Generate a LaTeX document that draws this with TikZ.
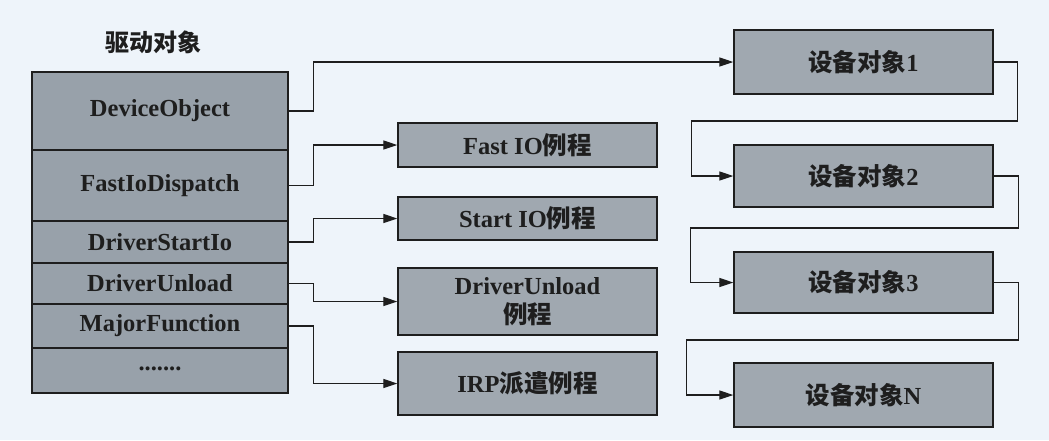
\documentclass[tikz,border=0pt]{standalone}
\usepackage{fontspec}
\setmainfont{Liberation Serif}
\newfontfamily\cjk{Noto Sans CJK SC}
\usetikzlibrary{arrows.meta}
\definecolor{bgc}{HTML}{EEF4FA}
\definecolor{boxc}{HTML}{A0A8B0}
\definecolor{leftc}{HTML}{98A1AA}
\definecolor{inkc}{HTML}{1E1E1E}
\tikzset{
  box/.style={draw=inkc, line width=1.4pt, fill=boxc, minimum width=259pt, inner sep=0pt, align=center, text=inkc, font=\fontsize{24.5}{29}\selectfont\bfseries},
  row/.style={draw=inkc, line width=1.4pt, fill=leftc, minimum width=256pt, inner sep=0pt, text=inkc, font=\fontsize{24.5}{29}\selectfont\bfseries},
  conn/.style={draw=inkc, line width=1.3pt},
  arr/.style={conn, -{Triangle[length=14pt,width=9pt]}}
}
\begin{document}
\begin{tikzpicture}[x=1pt,y=-1pt]
\fill[bgc] (0,0) rectangle (1049,440);
\useasboundingbox (0,0) rectangle (1049,440);
% title
\node[text=inkc, font=\fontsize{24}{26}\selectfont\bfseries\cjk] (title) at (153,42) {驱动对象};
% driver object rows
\node[row, minimum height=78pt] (r1) at (160,111) {DeviceObject};
\node[row, minimum height=71pt] (r2) at (160,185.5) {FastIoDispatch};
\node[row, minimum height=42pt] (r3) at (160,242) {DriverStartIo};
\node[row, minimum height=41pt] (r4) at (160,283.5) {DriverUnload};
\node[row, minimum height=44pt] (r5) at (160,326) {MajorFunction};
\node[row, minimum height=45pt] (r6) at (160,370.5) {\raisebox{0.35ex}{.......}};
% routines
\node[box, minimum height=44pt] (fast) at (527.5,145) {Fast IO{\cjk 例程}};
\node[box, minimum height=43pt] (start) at (527.5,218.5) {Start IO{\cjk 例程}};
\node[box, minimum height=67pt] (unload) at (527.5,301.5) {DriverUnload\\{\cjk 例程}};
\node[box, minimum height=63pt] (irp) at (527.5,383.5) {IRP{\cjk 派遣例程}};
% device objects
\node[box, minimum height=64pt] (d1) at (863.5,62) {{\cjk 设备对象}1};
\node[box, minimum height=62pt] (d2) at (863.5,176) {{\cjk 设备对象}2};
\node[box, minimum height=61pt] (d3) at (863.5,282.5) {{\cjk 设备对象}3};
\node[box, minimum height=64pt] (dN) at (863.5,395) {{\cjk 设备对象}N};
% connectors from driver object
\draw[arr] (r1.east) -- ++(25,0) |- (d1.west);
\draw[arr] (r2.east) -- ++(25,0) |- (fast.west);
\draw[arr] (r3.east) -- ++(25,0) |- (start.west);
\draw[arr] (r4.east) -- ++(25,0) |- (unload.west);
\draw[arr] (r5.east) -- ++(25,0) |- (irp.west);
% device chain
\draw[arr] (d1.east) -- ++(24,0) -- ++(0,59) -- ++(-326,0) |- (d2.west);
\draw[arr] (d2.east) -- ++(25,0) -- ++(0,52) -- ++(-328,0) |- (d3.west);
\draw[arr] (d3.east) -- ++(25,0) -- ++(0,57.5) -- ++(-332,0) |- (dN.west);
\end{tikzpicture}
\end{document}
